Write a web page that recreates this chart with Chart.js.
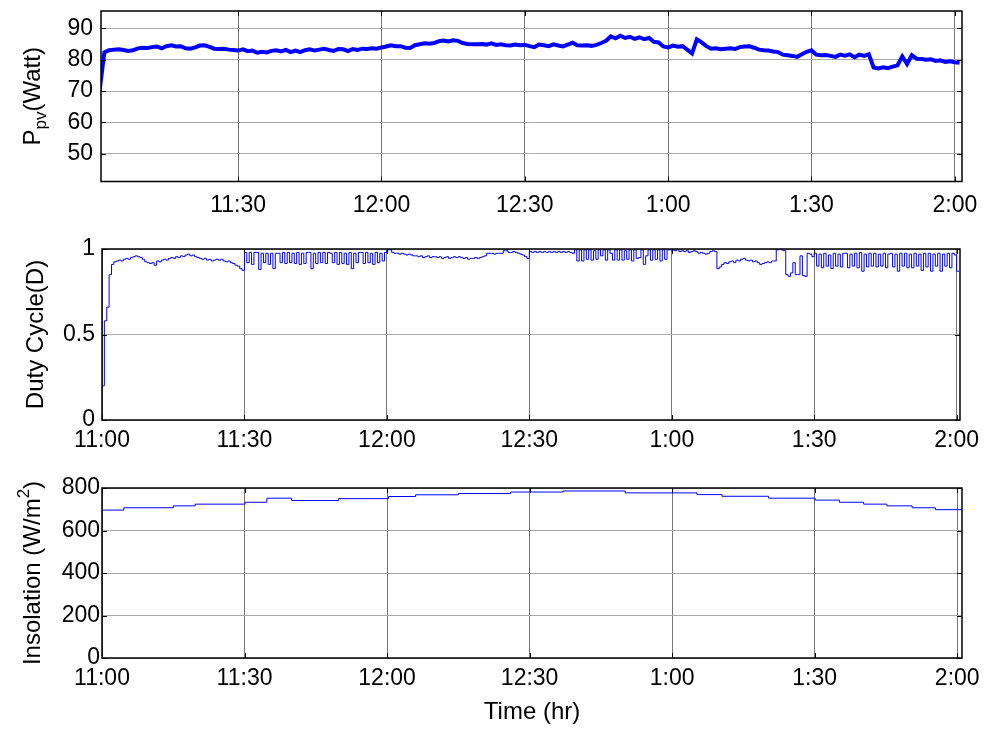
<!DOCTYPE html>
<html>
<head>
<meta charset="utf-8">
<title>PV power, duty cycle and insolation</title>
<script src="https://cdn.jsdelivr.net/npm/chart.js@4.4.1/dist/chart.umd.min.js"></script>
<style>
  body { margin: 0; background: #fff; }
  #wrap { position: relative; width: 990px; height: 729px; }
  canvas { position: absolute; left: 0; }
</style>
</head>
<body>
<div id="wrap">
  <canvas id="ppv-chart" width="990" height="230" style="top:0px"></canvas>
  <canvas id="duty-chart" width="990" height="230" style="top:230px"></canvas>
  <canvas id="ins-chart" width="990" height="269" style="top:460px"></canvas>
</div>
<script>
'use strict';

// ******** DATA *******

// time axis is minutes after 11:00
let xTickMinutes = [0, 30, 60, 90, 120, 150, 180];
let xTickLabels = ['11:00', '11:30', '12:00', '12:30', '1:00', '1:30', '2:00'];

let ppvTicks = [50, 60, 70, 80, 90];
let dutyTicks = [0, 0.5, 1];
let insTicks = [0, 200, 400, 600, 800];

// PV power (Watt), one reading per minute starting at minute 1
let ppvStartMin = 1;
let ppvWatts = [
  70, 82.3, 83, 83.2, 83.3, 83.1, 82.8, 83, 83.6, 83.8,
  83.7, 84, 84.2, 83.6, 84.3, 84.6, 84.2, 84.3, 83.6, 83.5,
  83.9, 84.5, 84.6, 84.1, 83.5, 83.4, 83.5, 83.2, 83.1, 82.9,
  83.3, 82.7, 82.9, 82.2, 82.5, 82.3, 82.8, 83, 82.6, 83.1,
  82.4, 82.9, 82.4, 83, 83.3, 82.9, 83.2, 83.5, 83.1, 82.8,
  83.4, 83.3, 82.7, 83.4, 83.1, 83.5, 83.4, 83.6, 83.5, 83.9,
  84.2, 84.6, 84.3, 84.3, 83.8, 83.7, 84.6, 84.9, 85.2, 85.1,
  85.3, 85.9, 86.1, 85.8, 86.2, 86, 85.3, 85, 84.9, 84.9,
  85, 84.8, 85.2, 84.7, 84.9, 84.6, 84.5, 84.8, 84.6, 84.7,
  84.3, 84, 84.8, 84.6, 84.3, 84.9, 84.5, 84.2, 84.8, 85.4,
  84.6, 84.5, 84.6, 84.4, 84.7, 85.3, 86, 87.4, 86.8, 87.6,
  86.9, 87.3, 86.6, 87.1, 86.5, 86.9, 85.7, 85.5, 84.2, 83.9,
  84.5, 84.1, 84.3, 83.2, 82, 86.5, 85.5, 84.3, 83.5, 83.6,
  83.3, 83.5, 83.6, 83.4, 84, 84.2, 84.3, 83.8, 83.2, 83,
  82.9, 82.6, 82.4, 81.6, 81.4, 81.2, 80.9, 81.7, 82.5, 83,
  81.6, 81.4, 81.5, 81.2, 80.9, 81.6, 81.3, 81.7, 80.8, 81.6,
  81.2, 81.7, 77.5, 77.2, 77.6, 77.3, 77.8, 78.2, 81, 78.6,
  81.4, 80.3, 80.2, 80, 80.1, 79.6, 79.8, 79.3, 79.5, 79.2,
  79
];

// duty cycle, one reading every half minute from 11:00
let dutyStepMin = 0.5;
let dutyValues = [
  0.2, 0.58, 0.66, 0.85, 0.91, 0.925, 0.93, 0.935, 0.93, 0.94, 0.945, 0.94, 0.95, 0.955, 0.96, 0.955, 0.95, 0.94, 0.925, 0.92,
  0.915, 0.92, 0.905, 0.93, 0.925, 0.935, 0.94, 0.935, 0.945, 0.95, 0.945, 0.955, 0.95, 0.96, 0.955, 0.965, 0.97, 0.96, 0.965, 0.955,
  0.95, 0.945, 0.94, 0.945, 0.935, 0.94, 0.93, 0.935, 0.94, 0.935, 0.94, 0.93, 0.925, 0.93, 0.92, 0.915, 0.905, 0.9, 0.885, 0.875,
  0.98, 0.92, 0.98, 0.91, 0.98, 0.98, 0.88, 0.975, 0.92, 0.975, 0.91, 0.975, 0.885, 0.975, 0.975, 0.92, 0.98, 0.915, 0.98, 0.92,
  0.975, 0.915, 0.98, 0.91, 0.975, 0.915, 0.98, 0.98, 0.885, 0.975, 0.915, 0.98, 0.92, 0.98, 0.915, 0.98, 0.975, 0.92, 0.98, 0.91,
  0.98, 0.915, 0.975, 0.91, 0.98, 0.885, 0.975, 0.92, 0.98, 0.98, 0.915, 0.98, 0.92, 0.975, 0.91, 0.98, 0.92, 0.975, 0.93, 0.98,
  0.995, 0.995, 0.98, 0.975, 0.975, 0.97, 0.975, 0.97, 0.965, 0.97, 0.965, 0.96, 0.96, 0.955, 0.96, 0.95, 0.955, 0.96, 0.95, 0.955,
  0.955, 0.95, 0.955, 0.945, 0.95, 0.955, 0.945, 0.95, 0.955, 0.95, 0.955, 0.95, 0.945, 0.95, 0.94, 0.945, 0.945, 0.95, 0.945, 0.95,
  0.955, 0.96, 0.975, 0.975, 0.975, 0.97, 0.975, 0.975, 0.975, 0.99, 0.99, 0.98, 0.98, 0.985, 0.98, 0.975, 0.97, 0.965, 0.955, 0.945,
  0.985, 0.98, 0.985, 0.98, 0.985, 0.98, 0.985, 0.98, 0.985, 0.98, 0.985, 0.98, 0.985, 0.98, 0.985, 0.98, 0.985, 0.98, 0.975, 0.995,
  0.93, 0.995, 0.93, 0.995, 0.94, 0.995, 0.935, 0.99, 0.94, 0.995, 0.96, 0.995, 0.935, 0.995, 0.975, 0.935, 0.995, 0.935, 0.995, 0.935,
  0.99, 0.94, 0.995, 0.93, 0.995, 0.945, 0.95, 0.995, 0.91, 0.96, 0.995, 0.935, 0.995, 0.94, 0.995, 0.93, 0.995, 0.94, 0.995, 0.995,
  0.995, 0.99, 0.995, 0.985, 0.99, 0.985, 0.99, 0.98, 0.985, 0.99, 0.985, 0.975, 0.98, 0.975, 0.97, 0.975, 0.985, 0.99, 0.985, 0.885,
  0.895, 0.91, 0.92, 0.915, 0.925, 0.93, 0.92, 0.935, 0.93, 0.94, 0.945, 0.935, 0.93, 0.935, 0.925, 0.93, 0.92, 0.91, 0.915, 0.92,
  0.925, 0.92, 0.93, 0.93, 0.995, 1.0, 0.995, 0.99, 0.85, 0.84, 0.86, 0.92, 0.85, 0.85, 0.96, 0.845, 0.84, 0.975, 0.97, 0.955,
  0.975, 0.9, 0.97, 0.89, 0.975, 0.9, 0.965, 0.885, 0.975, 0.9, 0.97, 0.895, 0.975, 0.975, 0.89, 0.97, 0.9, 0.975, 0.89, 0.98,
  0.87, 0.97, 0.895, 0.975, 0.9, 0.975, 0.895, 0.97, 0.9, 0.975, 0.89, 0.97, 0.975, 0.895, 0.97, 0.87, 0.975, 0.9, 0.975, 0.89,
  0.97, 0.89, 0.975, 0.9, 0.97, 0.875, 0.975, 0.895, 0.975, 0.87, 0.97, 0.9, 0.975, 0.87, 0.97, 0.9, 0.975, 0.89, 0.975, 0.965,
  0.87, 0.87
];

// insolation is a step signal: minute where each level starts
let insMinutes = [0, 4.6, 15, 19.6, 30.1, 34.7, 39.9, 49.8, 60.3, 66, 75, 86, 97, 110.1, 125.2, 130.5, 140.3, 150.1, 155.2, 160.3, 165.2, 170.5, 175.4, 181];
let insValues = [696, 707, 716, 724, 733, 752, 741, 750, 760, 768, 774, 781, 786, 777, 769, 761, 752, 743, 733, 724, 716, 707, 698, 698];


// ******** HELPERS *******

const FONT = '"Liberation Sans", Arial, Helvetica, sans-serif';
Chart.defaults.font.family = FONT;
Chart.defaults.color = '#000';

let ppvPoints = ppvWatts.map((w, i) => ({ x: ppvStartMin + i, y: w }));
let dutyPoints = dutyValues.map((d, i) => ({ x: i * dutyStepMin, y: d }));
let insPoints = insValues.map((v, i) => ({ x: insMinutes[i], y: v }));

// matlab style box, inward tick marks and the y label with sub/superscript
const matlabBox = {
  id: 'matlabBox',
  afterDraw(chart, args, opts) {
    const ctx = chart.ctx;
    const a = chart.chartArea;
    const sx = chart.scales.x;
    const sy = chart.scales.y;
    ctx.save();
    ctx.strokeStyle = '#000';
    ctx.lineWidth = 1;
    ctx.beginPath();
    sx.ticks.forEach(t => {
      let px = Math.round(sx.getPixelForValue(t.value)) + 0.5;
      ctx.moveTo(px, a.top); ctx.lineTo(px, a.top + 5);
      ctx.moveTo(px, a.bottom); ctx.lineTo(px, a.bottom - 5);
    });
    sy.ticks.forEach(t => {
      let py = Math.round(sy.getPixelForValue(t.value)) + 0.5;
      ctx.moveTo(a.left, py); ctx.lineTo(a.left + 5, py);
      ctx.moveTo(a.right, py); ctx.lineTo(a.right - 5, py);
    });
    ctx.stroke();
    ctx.lineWidth = 1.5;
    ctx.strokeRect(a.left, a.top, a.right - a.left, a.bottom - a.top);

    // y axis label
    let parts = opts.parts || [];
    let size = opts.size || 24;
    ctx.fillStyle = '#000';
    ctx.textBaseline = 'alphabetic';
    ctx.textAlign = 'left';
    let total = 0;
    parts.forEach(p => {
      ctx.font = Math.round(size * p.scale) + 'px ' + FONT;
      p.w = ctx.measureText(p.text).width;
      total += p.w;
    });
    ctx.translate(opts.x, (a.top + a.bottom) / 2);
    ctx.rotate(-Math.PI / 2);
    let u = -total / 2;
    parts.forEach(p => {
      ctx.font = Math.round(size * p.scale) + 'px ' + FONT;
      ctx.fillText(p.text, u, p.shift);
      u += p.w;
    });
    ctx.restore();
  }
};

function makeChart(canvasId, cfg) {
  let ctx = document.getElementById(canvasId);
  let xScale = {
    type: 'linear',
    min: cfg.xMin,
    max: cfg.xMax,
    afterBuildTicks: s => { s.ticks = cfg.xTicks.map(v => ({ value: v })); },
    afterFit: s => { s.height = cfg.xHeight; s.paddingLeft = 0; s.paddingRight = 0; },
    grid: { color: '#777', lineWidth: 1, drawTicks: false },
    border: { display: false },
    ticks: {
      autoSkip: false,
      maxRotation: 0,
      padding: cfg.xPad,
      font: { size: 23 },
      callback: v => xTickLabels[xTickMinutes.indexOf(v)]
    },
    title: cfg.xTitle ? {
      display: true,
      text: cfg.xTitle,
      font: { size: 24 },
      padding: { top: 0, bottom: 2 }
    } : { display: false }
  };
  let yScale = {
    min: cfg.yMin,
    max: cfg.yMax,
    afterBuildTicks: s => { s.ticks = cfg.yTicks.map(v => ({ value: v })); },
    afterFit: s => { s.width = cfg.yWidth; s.paddingTop = 0; s.paddingBottom = 0; },
    grid: { color: '#aaa', lineWidth: 1, drawTicks: false },
    border: { display: false },
    ticks: { padding: cfg.yPad, font: { size: 23 }, callback: v => String(v) }
  };

  return new Chart(ctx, {
    type: 'line',
    data: {
      datasets: [{
        data: cfg.points,
        borderColor: '#0000ff',
        borderWidth: cfg.lineWidth,
        pointRadius: 0,
        tension: 0,
        stepped: cfg.stepped,
        clip: 0
      }]
    },
    options: {
      responsive: false,
      animation: false,
      events: [],
      layout: { padding: { top: cfg.padTop, right: cfg.padRight, left: 0, bottom: 0 } },
      scales: { x: xScale, y: yScale },
      plugins: {
        legend: { display: false },
        tooltip: { enabled: false },
        matlabBox: cfg.yLabel
      }
    },
    plugins: [matlabBox]
  });
}

// ******** CHARTS *******

makeChart('ppv-chart', {
  points: ppvPoints, lineWidth: 4, stepped: false,
  xMin: 1.3, xMax: 181.5, xTicks: [30, 60, 90, 120, 150, 180],
  yMin: 41.2, yMax: 95.5, yTicks: ppvTicks,
  padTop: 11, padRight: 28, xHeight: 48.5, yWidth: 101, xPad: 10, yPad: 8,
  yLabel: { x: 40, size: 24, parts: [
    { text: 'P', scale: 1, shift: 0 },
    { text: 'pv', scale: 0.72, shift: 6 },
    { text: '(Watt)', scale: 1, shift: 0 }
  ] }
});

makeChart('duty-chart', {
  points: dutyPoints, lineWidth: 1, stepped: true,
  xMin: 0, xMax: 180.7, xTicks: xTickMinutes,
  yMin: 0, yMax: 1, yTicks: dutyTicks,
  padTop: 19, padRight: 30, xHeight: 40, yWidth: 102, xPad: 7, yPad: 7,
  yLabel: { x: 43, size: 24, parts: [
    { text: 'Duty Cycle(D)', scale: 1, shift: 0 }
  ] }
});

makeChart('ins-chart', {
  points: insPoints, lineWidth: 1, stepped: true,
  xMin: 0, xMax: 181, xTicks: xTickMinutes,
  yMin: 0, yMax: 800, yTicks: insTicks,
  padTop: 28, padRight: 28, xHeight: 71, yWidth: 102, xPad: 7, yPad: 2,
  xTitle: 'Time (hr)',
  yLabel: { x: 40, size: 24, parts: [
    { text: 'Insolation (W/m', scale: 1, shift: 0 },
    { text: '2', scale: 0.72, shift: -11 },
    { text: ')', scale: 1, shift: 0 }
  ] }
});
</script>
</body>
</html>
